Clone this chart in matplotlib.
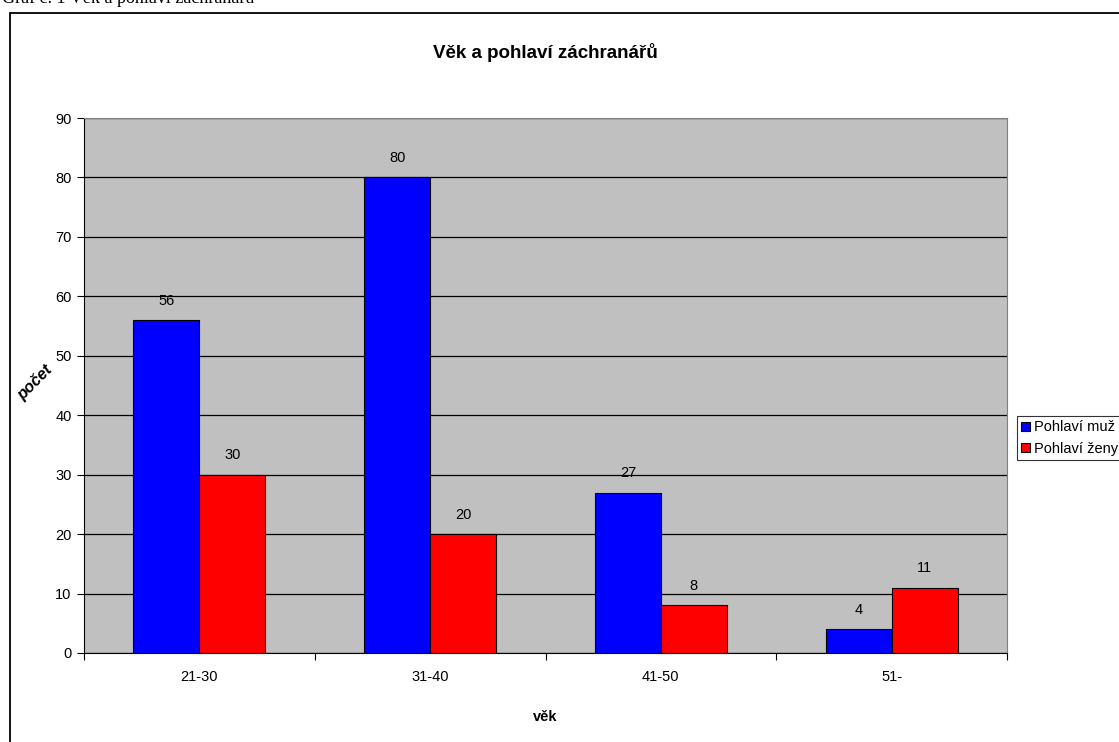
import matplotlib.pyplot as plt
import numpy as np
from matplotlib.patches import Rectangle

plt.rcParams['font.family'] = ['Liberation Sans', 'DejaVu Sans']

kategorie = ['21-30', '31-40', '41-50', '51-']
muzi = [56, 80, 27, 4]
zeny = [30, 20, 8, 11]
nazvy = ['Pohlaví muž', 'Pohlaví ženy']

W, H = 1119, 742
fig = plt.figure(figsize=(W / 100, H / 100), dpi=100)

# plot area in pixels: x 84..1007, y 118..653
ax = fig.add_axes([84 / W, 1 - 653 / H, (1007 - 84) / W, (653 - 118) / H])
ax.set_facecolor('#c0c0c0')

x = np.arange(len(kategorie))
sirka = 1 / 3.5
b1 = ax.bar(x - sirka / 2, muzi, sirka, color='#0000ff', edgecolor='black', linewidth=0.8, label=nazvy[0], zorder=3)
b2 = ax.bar(x + sirka / 2, zeny, sirka, color='#ff0000', edgecolor='black', linewidth=0.8, label=nazvy[1], zorder=3)

for bars, vals in ((b1, muzi), (b2, zeny)):
    for r, v in zip(bars, vals):
        ax.annotate(str(v), (r.get_x() + r.get_width() / 2, v), xytext=(0, 9),
                    textcoords='offset points', ha='center', va='bottom', fontsize=10.5)

ax.set_xlim(-0.5, len(kategorie) - 0.5)
ax.set_ylim(0, 90)
ax.set_yticks(np.arange(0, 91, 10))
ax.yaxis.grid(True, color='black', linewidth=0.9, zorder=1)
ax.set_axisbelow(True)

ax.set_xticks(x)
ax.set_xticklabels(kategorie, fontsize=10.5)
ax.tick_params(axis='x', length=0, pad=12)
ax.set_xticks(np.arange(-0.5, len(kategorie)), minor=True)
ax.tick_params(axis='x', which='minor', length=5, direction='out', width=0.8)
ax.tick_params(axis='y', length=5, direction='out', width=0.8, labelsize=10.5, pad=4)

ax.spines['left'].set_color('black')
ax.spines['bottom'].set_color('black')
ax.spines['top'].set_color('#808080')
ax.spines['right'].set_color('#808080')

fig.text(545 / W, 1 - 53 / H, 'Věk a pohlaví záchranářů', ha='center', va='center',
         fontsize=13.5, fontweight='bold')
fig.text(545 / W, 1 - 717 / H, 'věk', ha='center', va='center', fontsize=10.5, fontweight='bold')
fig.text(35 / W, 1 - 383 / H, 'počet', ha='center', va='center', fontsize=11.5,
         fontweight='bold', style='italic', rotation=45)

# caption above the chart frame, mostly cut off by the page edge
fig.text(2 / W, 1 - 3 / H, 'Graf č. 1 Věk a pohlaví záchranářů', ha='left', va='baseline',
         fontsize=13, family=['Liberation Serif', 'DejaVu Serif'])

# outer chart frame
fig.add_artist(Rectangle((10 / W, -0.1), 1.2, 1 - 13 / H + 0.1, transform=fig.transFigure,
                         fill=False, edgecolor='black', linewidth=1.3))

leg = fig.legend(handles=[b1, b2], loc='upper left', bbox_to_anchor=(1017 / W, 1 - 416 / H),
                 fontsize=10.5, frameon=True, fancybox=False, edgecolor='black',
                 handlelength=0.6, handleheight=0.6, handletextpad=0.3, borderpad=0.3,
                 labelspacing=0.5, borderaxespad=0)
leg.get_frame().set_linewidth(0.8)

fig.savefig('out.png', dpi=100)
